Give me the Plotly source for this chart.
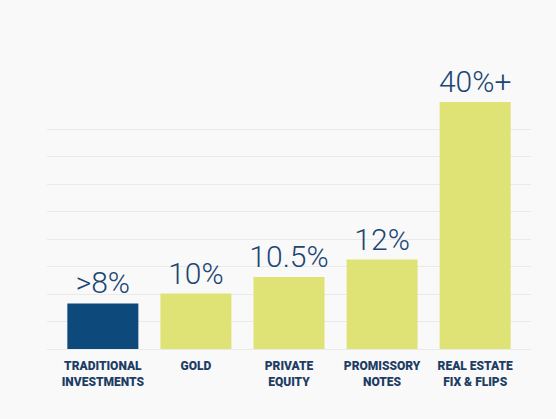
import plotly.graph_objects as go

# Categories and values
categories = ["TRADITIONAL<br>INVESTMENTS", "GOLD", "PRIVATE<br>EQUITY", "PROMISSORY<br>NOTES", "REAL ESTATE<br>FIX & FLIPS"]
bar_heights = [8.3, 10.1, 13.1, 16.3, 45]
value_labels = [">8%", "10%", "10.5%", "12%", "40%+"]
bar_colors = ["#0d4a7b", "#dfe376", "#dfe376", "#dfe376", "#dfe376"]

x_pos = list(range(len(categories)))

fig = go.Figure()

fig.add_trace(
    go.Bar(
        x=x_pos,
        y=bar_heights,
        marker_color=bar_colors,
        marker_line_width=0,
        text=value_labels,
        textposition="outside",
        textfont=dict(family="Roboto", size=30, color="#1c4673", weight=300),
        constraintext="none",
        cliponaxis=False,
        hoverinfo="skip",
    )
)

fig.update_layout(
    width=556,
    height=419,
    showlegend=False,
    bargap=0.237,
    plot_bgcolor="#f9f9f9",
    paper_bgcolor="#f9f9f9",
    margin=dict(t=102, b=70, l=47, r=25, pad=0),
    xaxis=dict(
        range=[-0.6, 4.6],
        tickmode="array",
        tickvals=x_pos,
        ticktext=categories,
        showgrid=False,
        zeroline=False,
        showline=False,
        ticks="",
        ticklabelstandoff=8,
        tickfont=dict(family="Roboto", size=12, color="#1e3d64", weight=900),
    ),
    yaxis=dict(
        range=[0, 45],
        dtick=5,
        showticklabels=False,
        showgrid=True,
        gridcolor="#eaeaea",
        gridwidth=1,
        zeroline=True,
        zerolinecolor="#eaeaea",
        zerolinewidth=1,
    ),
)

# page has a default body margin; drop it so the figure fills the window
fig.write_html(
    "out.html",
    config={"displayModeBar": False},
    post_script="document.body.style.margin='0';document.body.style.background='#f9f9f9';",
)
